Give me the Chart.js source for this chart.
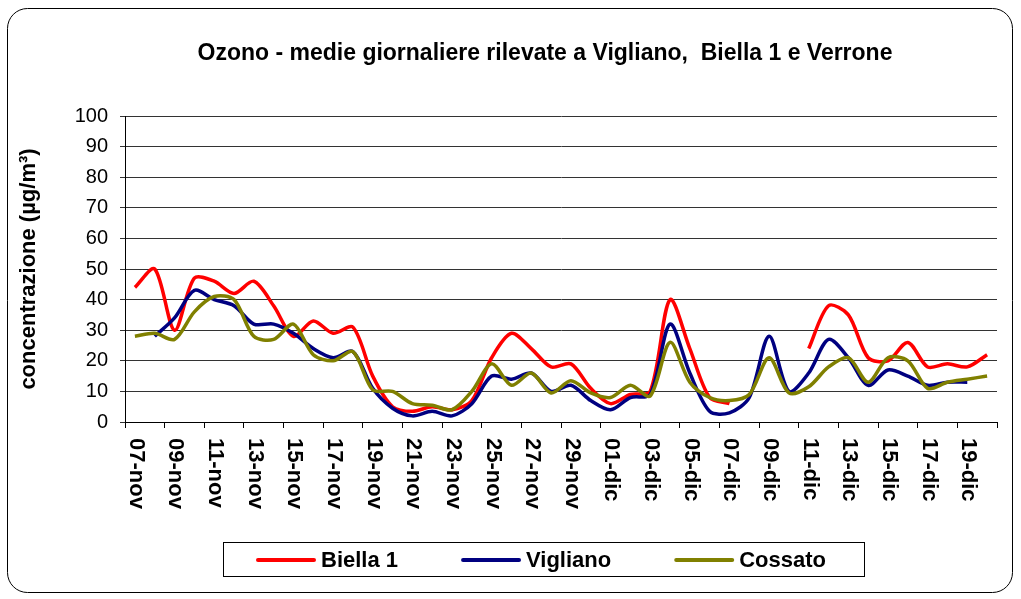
<!DOCTYPE html>
<html lang="it">
<head>
<meta charset="utf-8">
<title>Ozono - medie giornaliere</title>
<script src="https://cdn.jsdelivr.net/npm/chart.js@4.4.1/dist/chart.umd.min.js"></script>
<style>
  html, body { margin: 0; padding: 0; background: #fff; }
  #c { display: block; }
</style>
</head>
<body>
<canvas id="c" width="1021" height="599"></canvas>
<script>
// --- dati (medie giornaliere, µg/m³) ---
const dates = [
  '07-nov','08-nov','09-nov','10-nov','11-nov','12-nov','13-nov','14-nov','15-nov','16-nov',
  '17-nov','18-nov','19-nov','20-nov','21-nov','22-nov','23-nov','24-nov','25-nov','26-nov',
  '27-nov','28-nov','29-nov','30-nov','01-dic','02-dic','03-dic','04-dic','05-dic','06-dic',
  '07-dic','08-dic','09-dic','10-dic','11-dic','12-dic','13-dic','14-dic','15-dic','16-dic',
  '17-dic','18-dic','19-dic','20-dic'
];
const biella1 = [
  44, 50, 30, 47, 46, 42, 46, 38, 28, 33,
  29, 31, 15, 5, 3.5, 5, 4, 7, 21, 29,
  24, 18, 19, 11, 6, 9, 10, 40, 24, 8,
  6, null, null, null, 24, 38, 35, 21, 20, 26,
  18, 19, 18, 22
];
const vigliano = [
  null, 28, 34, 43, 40, 38, 32, 32, 29, 24,
  21, 23, 11, 4.5, 2, 3.5, 2, 6, 15, 14,
  16, 10, 12, 7, 4, 8, 9, 32, 16, 3.5,
  3, 8, 28, 10, 16, 27, 21, 12, 17, 15,
  12, 13, 13, null
];
const cossato = [
  28, 29, 27, 36, 41, 40, 28, 27, 32, 22,
  20, 23, 10.5, 10, 6, 5.5, 4, 10, 19, 12,
  16, 9.5, 13.5, 9.5, 8, 12, 8.5, 26, 13, 8,
  7, 9, 21, 9.5, 11.5, 18, 21, 13, 21, 20,
  11, 13, 14, 15
];
const yTicks = [0, 10, 20, 30, 40, 50, 60, 70, 80, 90, 100];

const FONT = '"Liberation Sans", Arial, sans-serif';
const titleText = 'Ozono - medie giornaliere rilevate a Vigliano,  Biella 1 e Verrone';

// cornice, titolo, etichette ruotate e legenda in riquadro
const decor = {
  id: 'decor',
  beforeDraw(chart) {
    const ctx = chart.ctx;
    ctx.save();
    ctx.fillStyle = '#fff';
    ctx.fillRect(0, 0, chart.width, chart.height);
    ctx.beginPath();
    ctx.roundRect(7.5, 8.5, 1005, 584, 20);
    ctx.strokeStyle = '#000';
    ctx.lineWidth = 1;
    ctx.stroke();
    ctx.restore();
  },
  afterDraw(chart) {
    const ctx = chart.ctx;
    const xs = chart.scales.x;
    const area = chart.chartArea;
    ctx.save();
    ctx.fillStyle = '#000';

    // titolo
    ctx.font = 'bold 23px ' + FONT;
    ctx.textAlign = 'center';
    ctx.textBaseline = 'middle';
    ctx.fillText(titleText, 545, 54);

    // etichette asse x, ruotate in senso orario, una ogni due giorni
    ctx.font = 'bold 22px ' + FONT;
    ctx.textAlign = 'left';
    dates.forEach((d, i) => {
      if (i % 2) return;
      ctx.save();
      ctx.translate(xs.getPixelForTick(i) + 1, area.bottom + 16);
      ctx.rotate(Math.PI / 2);
      ctx.fillText(d, 0, 0);
      ctx.restore();
    });

    // legenda
    ctx.strokeStyle = '#000';
    ctx.lineWidth = 1;
    ctx.strokeRect(223.5, 542.5, 641, 34);
    let x = 258;
    const y = 560;
    chart.data.datasets.forEach(ds => {
      ctx.beginPath();
      ctx.moveTo(x, y);
      ctx.lineTo(x + 56, y);
      ctx.strokeStyle = ds.borderColor;
      ctx.lineWidth = 4;
      ctx.lineCap = 'round';
      ctx.stroke();
      ctx.fillStyle = '#000';
      ctx.fillText(ds.label, x + 63, y + 1);
      x += 63 + ctx.measureText(ds.label).width + 65;
    });
    ctx.restore();
  }
};

const line = (label, data, color, order) => ({
  label, data, borderColor: color, backgroundColor: color,
  borderWidth: 3.5, pointRadius: 0, pointHoverRadius: 0,
  tension: 0.3, spanGaps: false, fill: false, order
});

new Chart(document.getElementById('c'), {
  type: 'line',
  data: {
    labels: dates,
    datasets: [
      line('Biella 1', biella1, '#FF0000', 3),
      line('Vigliano', vigliano, '#000080', 2),
      line('Cossato', cossato, '#808000', 1)
    ]
  },
  options: {
    responsive: false,
    animation: false,
    layout: { padding: { left: 10, right: 24, top: 116, bottom: 20 } },
    plugins: {
      legend: { display: false },
      title: { display: false },
      tooltip: { enabled: false }
    },
    scales: {
      x: {
        type: 'category',
        offset: true,
        afterFit: s => { s.height = 157; },
        ticks: { display: false, autoSkip: false },
        grid: {
          offset: true,
          drawOnChartArea: false,
          drawTicks: true,
          tickLength: 6,
          color: c => (c.index === undefined || c.index % 2 === 0) ? '#000' : 'rgba(0,0,0,0)'
        },
        border: { color: '#000', width: 1 }
      },
      y: {
        min: 0,
        max: 100,
        afterFit: s => { s.width = 115; },
        afterBuildTicks: s => { s.ticks = yTicks.map(v => ({ value: v })); },
        ticks: {
          color: '#000',
          padding: 12,
          font: { family: FONT, size: 20 }
        },
        grid: { color: '#333', lineWidth: 1, tickLength: 5 },
        border: { color: '#000', width: 1 },
        title: {
          display: true,
          text: 'concentrazione (µg/m³)',
          color: '#000',
          padding: { top: 6, bottom: 0 },
          font: { family: FONT, size: 22, weight: 'bold' }
        }
      }
    }
  },
  plugins: [decor]
});
</script>
</body>
</html>
